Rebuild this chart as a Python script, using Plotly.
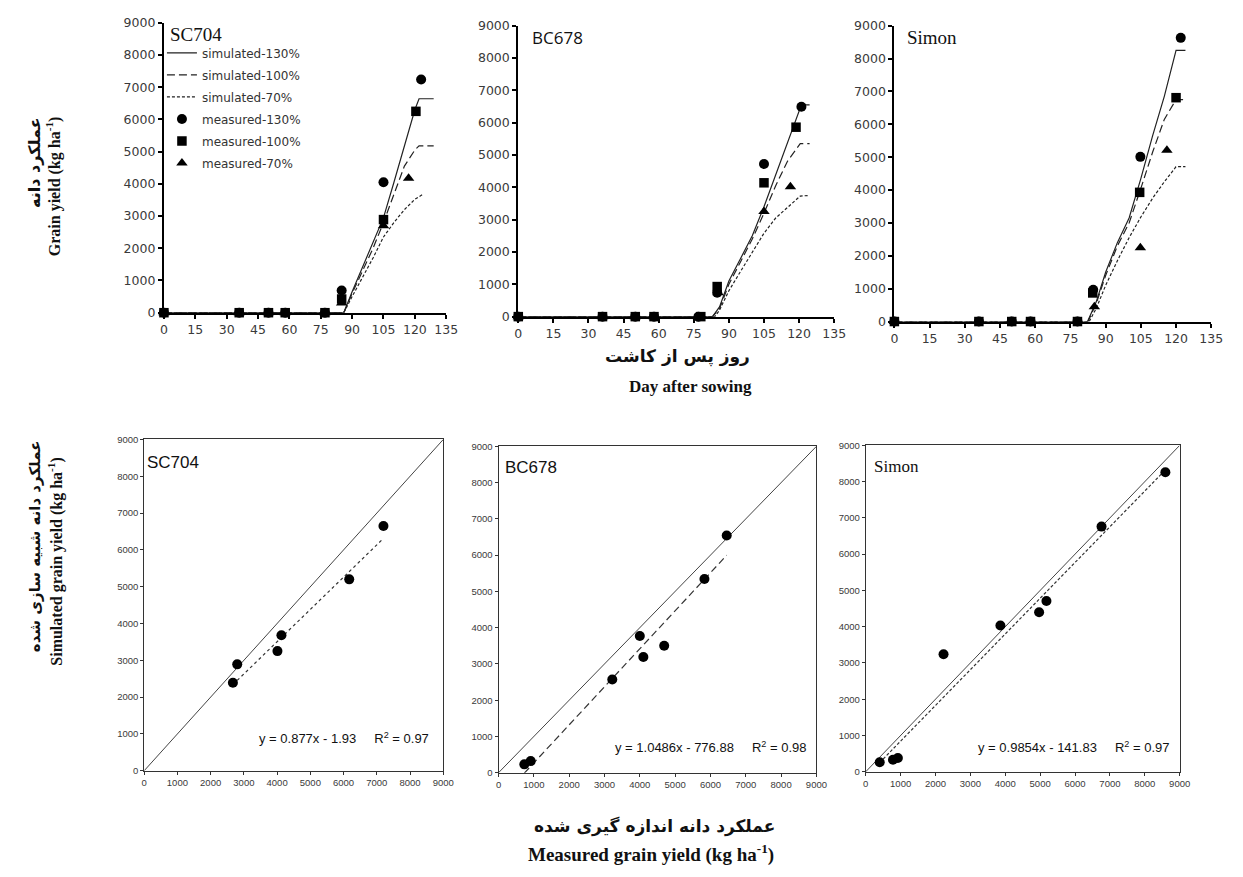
import plotly.graph_objects as go

W, H = 1243, 877

# ---------------- data: time courses (top row) ----------------
# SC704
sc_m130_x = [0, 36, 50, 58, 77, 85, 105, 123]
sc_m130_y = [0, 0, 0, 0, 0, 690, 4050, 7240]
sc_m100_x = [0, 36, 50, 58, 77, 85, 105, 120.5]
sc_m100_y = [0, 0, 0, 0, 0, 425, 2890, 6250]
sc_m70_x = [0, 36, 50, 58, 77, 85, 105, 117]
sc_m70_y = [0, 0, 0, 0, 0, 300, 2700, 4170]
sc_s130_x = [0, 86, 90, 95, 100, 105, 110, 115, 120, 122, 129]
sc_s130_y = [0, 0, 650, 1400, 2150, 2950, 4050, 5150, 6300, 6640, 6640]
sc_s100_x = [0, 86, 90, 95, 100, 105, 110, 115, 120, 122, 129]
sc_s100_y = [0, 0, 600, 1300, 2000, 2800, 3700, 4550, 5050, 5180, 5180]
sc_s70_x = [0, 86, 90, 95, 100, 105, 110, 115, 120, 124]
sc_s70_y = [0, 0, 500, 1100, 1700, 2350, 2800, 3200, 3520, 3680]

# BC678
bc_m130_x = [0, 36, 50, 58, 77, 85, 105, 121]
bc_m130_y = [0, 0, 0, 0, 0, 740, 4720, 6490]
bc_m100_x = [0, 36, 50, 58, 78, 85, 105, 118.7]
bc_m100_y = [0, 0, 0, 0, 0, 930, 4140, 5860]
bc_m70_x = [0, 36, 50, 58, 77, 85.4, 105, 116.3]
bc_m70_y = [0, 0, 0, 0, 0, 740, 3250, 4020]
bc_s130_x = [0, 83, 86, 90, 95, 100, 105, 110, 115, 120, 121, 124.5]
bc_s130_y = [0, 0, 300, 1100, 1800, 2500, 3400, 4400, 5400, 6400, 6550, 6550]
bc_s100_x = [0, 83, 86, 90, 95, 100, 105, 110, 115, 120.5, 124.5]
bc_s100_y = [0, 0, 250, 1000, 1700, 2400, 3200, 4050, 4800, 5350, 5350]
bc_s70_x = [0, 84, 86, 90, 95, 100, 105, 110, 115, 120.5, 124.5]
bc_s70_y = [0, 0, 200, 800, 1400, 2000, 2580, 3050, 3380, 3730, 3750]

# Simon
si_m130_x = [0, 36, 50, 58, 78, 84.7, 104.8, 122]
si_m130_y = [0, 0, 0, 0, 0, 970, 5010, 8630]
si_m100_x = [0, 36, 50, 58, 78, 84.5, 104.5, 120]
si_m100_y = [0, 0, 0, 0, 0, 870, 3930, 6810]
si_m70_x = [0, 36, 50, 58, 78, 85.2, 104.8, 116.1]
si_m70_y = [0, 0, 0, 0, 0, 450, 2245, 5210]
si_s130_x = [0, 82.3, 86, 90, 95, 100, 105, 110, 115, 120, 124]
si_s130_y = [0, 0, 600, 1500, 2400, 3150, 4350, 5650, 6850, 8250, 8250]
si_s100_x = [0, 82.5, 86, 90, 95, 100, 105, 110, 115, 120, 124]
si_s100_y = [0, 0, 550, 1400, 2300, 3000, 4050, 5150, 6150, 6750, 6750]
si_s70_x = [0, 83, 86, 90, 95, 100, 105, 110, 115, 120, 124]
si_s70_y = [0, 0, 400, 1100, 1850, 2550, 3180, 3750, 4250, 4710, 4710]

# ---------------- data: measured vs simulated (bottom row) ----------------
sc_meas = [2670, 2800, 4010, 4130, 6170, 7200]
sc_sim = [2390, 2890, 3250, 3680, 5200, 6650]
sc_slope, sc_icpt, sc_r2 = 0.877, -1.93, 0.97

bc_meas = [730, 910, 3220, 4000, 4100, 4690, 5830, 6460]
bc_sim = [230, 320, 2570, 3770, 3190, 3500, 5340, 6540]
bc_slope, bc_icpt, bc_r2 = 1.0486, -776.88, 0.98

si_meas = [400, 780, 920, 2230, 3860, 4970, 5180, 6760, 8590]
si_sim = [260, 330, 380, 3240, 4030, 4400, 4710, 6760, 8260]
si_slope, si_icpt, si_r2 = 0.9854, -141.83, 0.97

one_to_one = [0, 9000]

top_ticks_x = [0, 15, 30, 45, 60, 75, 90, 105, 120, 135]
yield_ticks = [0, 1000, 2000, 3000, 4000, 5000, 6000, 7000, 8000, 9000]

cultivars = ["SC704", "BC678", "Simon"]
eq_texts = ["y = 0.877x - 1.93", "y = 1.0486x - 776.88", "y = 0.9854x - 141.83"]

# ---------------- layout helpers (window pixels -> paper coords) ----------------
def px(a):
    return a / W

def py(b):
    return 1 - b / H

def dom_x(a, b):
    return [px(a), px(b)]

def dom_y(top, bottom):
    return [py(bottom), py(top)]

top_boxes = [(162, 448, 15, 310), (521, 841, 18, 314), (902, 1223, 18, 319)]
bot_boxes = [(142, 445, 439, 776), (501, 823, 446, 778), (873, 1191, 445, 777)]

fig = go.Figure()

TICKFONT_TOP = dict(family="DejaVu Sans, Verdana, sans-serif", size=12.5, color="#3a3a3a")
TICKFONT_BOT = dict(family="Liberation Sans, Arial, sans-serif", size=9.5, color="#3a3a3a")

top_sets = [
    (sc_s130_x, sc_s130_y, sc_s100_x, sc_s100_y, sc_s70_x, sc_s70_y,
     sc_m130_x, sc_m130_y, sc_m100_x, sc_m100_y, sc_m70_x, sc_m70_y),
    (bc_s130_x, bc_s130_y, bc_s100_x, bc_s100_y, bc_s70_x, bc_s70_y,
     bc_m130_x, bc_m130_y, bc_m100_x, bc_m100_y, bc_m70_x, bc_m70_y),
    (si_s130_x, si_s130_y, si_s100_x, si_s100_y, si_s70_x, si_s70_y,
     si_m130_x, si_m130_y, si_m100_x, si_m100_y, si_m70_x, si_m70_y),
]

for i, s in enumerate(top_sets):
    xa = "x" if i == 0 else f"x{i+1}"
    ya = "y" if i == 0 else f"y{i+1}"
    show = i == 0
    lines = [("simulated-130%", s[0], s[1], "solid"),
             ("simulated-100%", s[2], s[3], "8px,4px"),
             ("simulated-70%", s[4], s[5], "3px,2px")]
    for name, xs, ys, dash in lines:
        fig.add_trace(go.Scatter(x=xs, y=ys, mode="lines", name=name, showlegend=show,
                                 legendgroup=name,
                                 line=dict(color="#222222", width=1.2, dash=dash),
                                 xaxis=xa, yaxis=ya))
    marks = [("measured-130%", s[6], s[7], "circle", 10),
             ("measured-100%", s[8], s[9], "square", 9.5),
             ("measured-70%", s[10], s[11], "triangle-up", 10)]
    for name, xs, ys, sym, sz in marks:
        fig.add_trace(go.Scatter(x=xs, y=ys, mode="markers", name=name, showlegend=show,
                                 legendgroup=name,
                                 marker=dict(symbol=sym, size=sz, color="black"),
                                 cliponaxis=False, xaxis=xa, yaxis=ya))

bot_sets = [
    (sc_meas, sc_sim, sc_slope, sc_icpt, "3px,3px"),
    (bc_meas, bc_sim, bc_slope, bc_icpt, "7px,4px"),
    (si_meas, si_sim, si_slope, si_icpt, "3px,2px"),
]
for j, (mx, sy, slope, icpt, dash) in enumerate(bot_sets):
    k = j + 4
    xa, ya = f"x{k}", f"y{k}"
    fig.add_trace(go.Scatter(x=one_to_one, y=one_to_one, mode="lines", showlegend=False,
                             line=dict(color="#444444", width=1), xaxis=xa, yaxis=ya))
    fx = [min(mx), max(mx)]
    fy = [slope * v + icpt for v in fx]
    fig.add_trace(go.Scatter(x=fx, y=fy, mode="lines", showlegend=False,
                             line=dict(color="#333333", width=1.2, dash=dash), xaxis=xa, yaxis=ya))
    fig.add_trace(go.Scatter(x=mx, y=sy, mode="markers", showlegend=False,
                             marker=dict(symbol="circle", size=10, color="black"),
                             cliponaxis=False, xaxis=xa, yaxis=ya))

layout = dict(width=W, height=H, margin=dict(l=0, r=0, t=0, b=0),
              paper_bgcolor="white", plot_bgcolor="white", showlegend=True,
              hovermode=False)

for i, (x0, x1, y0, y1) in enumerate(top_boxes):
    xk = "xaxis" if i == 0 else f"xaxis{i+1}"
    yk = "yaxis" if i == 0 else f"yaxis{i+1}"
    anchor_y = "y" if i == 0 else f"y{i+1}"
    anchor_x = "x" if i == 0 else f"x{i+1}"
    layout[xk] = dict(domain=dom_x(x0, x1), anchor=anchor_y, range=[0, 135],
                      tickvals=top_ticks_x, showgrid=False, zeroline=False,
                      showline=True, linecolor="black", linewidth=2,
                      ticks="outside", ticklen=4, tickwidth=1.5, tickcolor="black",
                      tickfont=TICKFONT_TOP)
    layout[yk] = dict(domain=dom_y(y0, y1), anchor=anchor_x, range=[0, 9000],
                      tickvals=yield_ticks, showgrid=False, zeroline=False,
                      showline=True, linecolor="black", linewidth=2,
                      ticks="outside", ticklen=4, tickwidth=1.5, tickcolor="black",
                      tickfont=TICKFONT_TOP)

for j, (x0, x1, y0, y1) in enumerate(bot_boxes):
    k = j + 4
    layout[f"xaxis{k}"] = dict(domain=dom_x(x0, x1), anchor=f"y{k}", range=[0, 9000],
                              tickvals=yield_ticks, showgrid=False, zeroline=False,
                              showline=True, mirror=True, linecolor="#333333", linewidth=1,
                              ticks="outside", ticklen=3, tickcolor="#333333",
                              tickfont=TICKFONT_BOT)
    layout[f"yaxis{k}"] = dict(domain=dom_y(y0, y1), anchor=f"x{k}", range=[0, 9000],
                              tickvals=yield_ticks, showgrid=False, zeroline=False,
                              showline=True, mirror=True, linecolor="#333333", linewidth=1,
                              ticks="outside", ticklen=3, tickcolor="#333333",
                              tickfont=TICKFONT_BOT)

layout["legend"] = dict(x=px(160), y=py(31), xanchor="left", yanchor="top",
                        bgcolor="rgba(0,0,0,0)", traceorder="grouped", tracegroupgap=3,
                        font=dict(family="DejaVu Sans, Verdana, sans-serif", size=12, color="#333333"),
                        itemwidth=30)

fig.update_layout(**layout)

SERIF = "Liberation Serif, Times New Roman, serif"
SANS = "Liberation Sans, Arial, sans-serif"
PERSIAN = "DejaVu Sans, Noto Sans, sans-serif"

def note(x, y, text, fam, size, xanchor="center", angle=0):
    return dict(x=px(x), y=py(y), xref="paper", yref="paper", text=text,
                showarrow=False, xanchor=xanchor, yanchor="middle", textangle=angle,
                font=dict(family=fam, size=size, color="#111111"))

ann = []
top_label_pos = [(166, 27, SERIF, 19), (533, 30, "Open Sans, sans-serif", 17), (913, 30, SERIF, 19)]
for name, (x, y, fam, sz) in zip(cultivars, top_label_pos):
    ann.append(note(x, y, name, fam, sz, xanchor="left"))
bot_label_pos = [(143, 462, SANS, 17), (506, 468, SANS, 17), (879, 466, SERIF, 17)]
for name, (x, y, fam, sz) in zip(cultivars, bot_label_pos):
    ann.append(note(x, y, name, fam, sz, xanchor="left"))

eq_pos = [(433, 743), (815, 752), (1183, 752)]
for eq, r2, (x, y) in zip(eq_texts, [sc_r2, bc_r2, si_r2], eq_pos):
    ann.append(note(x, y, f"{eq}&nbsp;&nbsp;&nbsp;&nbsp;&nbsp;R<sup>2</sup> = {r2:.2f}",
                    SANS, 13, xanchor="right"))

# axis titles
ann.append(note(31, 157, "<b>عملکرد دانه</b>", PERSIAN, 16, angle=-90))
ann.append(note(51, 181, "<b>Grain yield (kg ha<sup>-1</sup>)</b>", SERIF, 16, angle=-90))
ann.append(note(31, 548, "<b>عملکرد دانه شبیه سازی شده</b>", PERSIAN, 15, angle=-90))
ann.append(note(52, 563, "<b>Simulated grain yield (kg ha<sup>-1</sup>)</b>", SERIF, 16, angle=-90))
ann.append(note(682, 355, "<b>روز پس از کاشت</b>", PERSIAN, 17))
ann.append(note(695, 385, "<b>Day after sowing</b>", SERIF, 17))
ann.append(note(659, 833, "<b>عملکرد دانه اندازه گیری شده</b>", PERSIAN, 17))
ann.append(note(655, 860, "<b>Measured grain yield (kg ha<sup>-1</sup>)</b>", SERIF, 19))

fig.update_layout(annotations=ann)
fig.write_html("out.html", config={"displayModeBar": False},
               post_script="document.body.style.margin='0px';document.body.style.overflow='hidden';")
